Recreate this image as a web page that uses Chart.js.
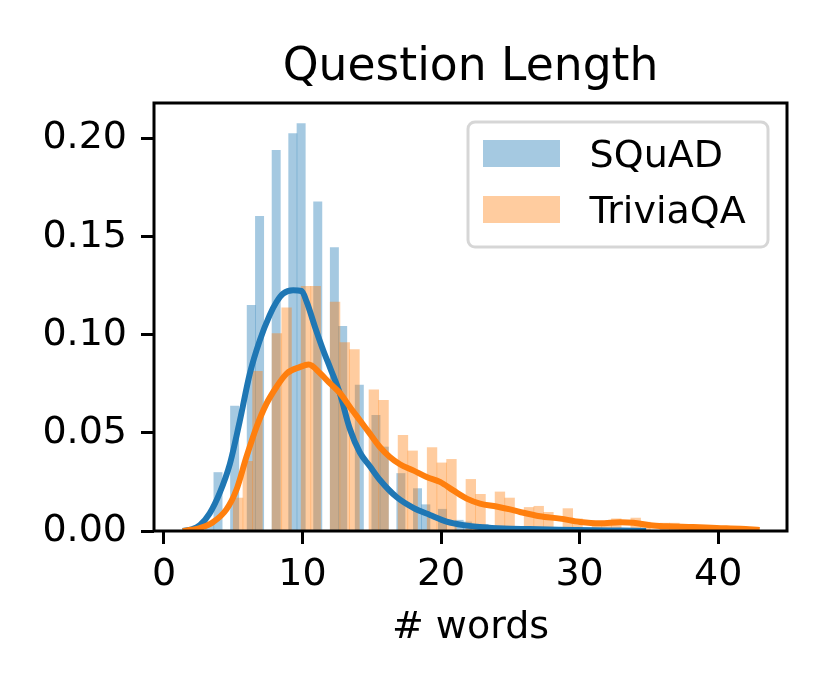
<!DOCTYPE html>
<html>
<head>
<meta charset="utf-8">
<script src="https://cdn.jsdelivr.net/npm/chart.js@4.4.1/dist/chart.umd.min.js"></script>
<style>
  html, body { margin: 0; padding: 0; background: #fff; }
  canvas { display: block; }
</style>
</head>
<body>
<canvas id="length-chart" width="830" height="692"></canvas>
<script>
// histogram bins (bin centre in words, density per bin)
var squadBinCenters = [3.3, 3.9, 5.1, 6.3, 6.9, 8.1, 9.3, 9.9, 11.1, 12.3, 12.9, 14.1, 15.3, 15.9, 17.1,
  18.3, 18.9, 20.1, 21.3, 21.9, 23.1, 24.3, 24.9, 26.1, 27.3, 27.9, 29.1, 30.3, 30.9, 32.1, 32.7];
var squadDensity = [0.0043, 0.0298, 0.0637, 0.115, 0.1604, 0.194, 0.2025, 0.2076, 0.1677, 0.1444, 0.1043,
  0.0743, 0.059, 0.0428, 0.0293, 0.0216, 0.0134, 0.0111, 0.0055, 0.0046, 0.0033, 0.0025, 0.002, 0.0015,
  0.0012, 0.001, 0.0008, 0.0006, 0.0005, 0.0004, 0.0003];

var triviaBinCenters = [5.35, 6.05, 6.75, 8.15, 8.85, 10.25, 10.95, 12.35, 13.05, 13.75, 15.15, 15.85,
  17.25, 17.95, 19.35, 20.05, 20.75, 22.15, 22.85, 24.25, 24.95, 26.35, 27.05, 27.75, 29.15, 29.85,
  31.25, 31.95, 32.65, 34.05, 34.75, 36.15, 36.85, 37.55, 38.95, 39.65];
var triviaDensity = [0.0168, 0.0355, 0.0814, 0.1006, 0.1137, 0.1247, 0.1247, 0.1167, 0.096, 0.0925, 0.072,
  0.0666, 0.0488, 0.0408, 0.0425, 0.0347, 0.0365, 0.0263, 0.0187, 0.0199, 0.0168, 0.012, 0.0126, 0.0095,
  0.0114, 0.0062, 0.0045, 0.005, 0.0062, 0.0066, 0.0045, 0.004, 0.004, 0.0025, 0.002, 0.0015];

// kde curves
var squadKdeX = [1.36, 2.0, 2.6, 3.3, 4.0, 4.75, 5.47, 6.19, 6.91, 7.63, 8.12, 8.6, 9.32, 9.93, 10.29,
  10.9, 11.5, 12.0, 12.7, 13.42, 14.14, 14.86, 15.59, 16.79, 18.0, 19.2, 20.4, 21.6, 23.0, 24.5, 26.4,
  28.5, 31, 33, 34.8];
var squadKdeY = [0, 0.0008, 0.003, 0.009, 0.019, 0.034, 0.056, 0.08, 0.097, 0.11, 0.1167, 0.121, 0.1227,
  0.1223, 0.117, 0.104, 0.092, 0.083, 0.07, 0.052, 0.04, 0.033, 0.026, 0.0173, 0.0118, 0.0082, 0.0048,
  0.003, 0.0019, 0.0013, 0.001, 0.0007, 0.0004, 0.0002, 0];

var triviaKdeX = [1.36, 2.0, 2.59, 3.54, 4.51, 5.23, 5.95, 6.68, 7.4, 8.12, 8.85, 9.8, 10.45, 11.25, 11.97,
  12.7, 13.42, 14.14, 14.86, 15.58, 16.3, 17.03, 17.99, 18.96, 19.92, 20.88, 21.85, 22.81, 24.0, 24.98,
  25.7, 27.14, 28.59, 30.03, 31.48, 32.93, 33.89, 35.1, 36.3, 38.2, 39.9, 41.6, 43.0];
var triviaKdeY = [0, 0.0006, 0.0015, 0.0045, 0.011, 0.021, 0.0377, 0.053, 0.0649, 0.0734, 0.0802, 0.0835,
  0.0848, 0.0805, 0.0753, 0.0703, 0.0632, 0.0564, 0.0496, 0.0428, 0.0377, 0.034, 0.0309, 0.0275, 0.025,
  0.0207, 0.0165, 0.014, 0.0125, 0.011, 0.0097, 0.0075, 0.0063, 0.0046, 0.0039, 0.0045, 0.0042, 0.0029,
  0.0024, 0.002, 0.0015, 0.0011, 0.0005];

var xTicks = [0, 10, 20, 30, 40];
var yTicks = [0, 0.05, 0.1, 0.15, 0.2];
var seriesNames = ["SQuAD", "TriviaQA"];
var chartTitle = "Question Length";
var xTitle = "# words";

function points(xs, ys) {
  return xs.map(function (x, i) { return { x: x, y: ys[i] }; });
}

Chart.defaults.font.family = '"DejaVu Sans", sans-serif';
Chart.defaults.color = "#000";

// frame, title and matplotlib-style legend
var decorPlugin = {
  id: "decor",
  afterDraw: function (chart) {
    var ctx = chart.ctx;
    var a = chart.chartArea;
    ctx.save();
    ctx.strokeStyle = "#000";
    ctx.lineWidth = 3;
    ctx.strokeRect(a.left, a.top, a.right - a.left, a.bottom - a.top);

    ctx.fillStyle = "#000";
    ctx.font = '45.6px "DejaVu Sans"';
    ctx.textAlign = "center";
    ctx.textBaseline = "alphabetic";
    ctx.fillText(chartTitle, (a.left + a.right) / 2, 79.5);

    // legend
    ctx.font = '38px "DejaVu Sans"';
    var w = 300;
    var h = 125;
    var x0 = a.right - 19 - w;
    var y0 = a.top + 19;
    ctx.beginPath();
    ctx.roundRect(x0, y0, w, h, 7);
    ctx.fillStyle = "rgba(255,255,255,0.8)";
    ctx.fill();
    ctx.strokeStyle = "rgba(204,204,204,0.8)";
    ctx.lineWidth = 3;
    ctx.stroke();
    ctx.textAlign = "left";
    for (var i = 0; i < 2; i++) {
      var cy = y0 + 31.5 + i * 56;
      ctx.fillStyle = chart.data.datasets[i].backgroundColor;
      ctx.fillRect(x0 + 15, cy - 13.5, 77, 27);
      ctx.fillStyle = "#000";
      ctx.fillText(seriesNames[i], x0 + 121.6, cy + 13);
    }
    ctx.restore();
  }
};

var ctx = document.getElementById("length-chart").getContext("2d");
var myLengthChart = new Chart(ctx, {
  type: "bar",
  data: {
    datasets: [
      {
        label: seriesNames[0],
        data: points(squadBinCenters, squadDensity),
        backgroundColor: "rgba(31,119,180,0.4)",
        borderWidth: 0,
        barThickness: 8.3,
        grouped: false,
        order: 4
      },
      {
        label: seriesNames[1],
        data: points(triviaBinCenters, triviaDensity),
        backgroundColor: "rgba(255,127,14,0.4)",
        borderWidth: 0,
        barThickness: 9.7,
        grouped: false,
        order: 3
      },
      {
        type: "line",
        label: seriesNames[0] + " kde",
        data: points(squadKdeX, squadKdeY),
        borderColor: "#1f77b4",
        borderWidth: 6,
        pointRadius: 0,
        fill: false,
        cubicInterpolationMode: "monotone",
        order: 2
      },
      {
        type: "line",
        label: seriesNames[1] + " kde",
        data: points(triviaKdeX, triviaKdeY),
        borderColor: "#ff7f0e",
        borderWidth: 6,
        pointRadius: 0,
        fill: false,
        cubicInterpolationMode: "monotone",
        order: 1
      }
    ]
  },
  options: {
    responsive: false,
    animation: false,
    layout: { padding: { top: 103, right: 43, bottom: 0, left: 0 } },
    plugins: {
      legend: { display: false },
      title: { display: false },
      tooltip: { enabled: false }
    },
    scales: {
      x: {
        type: "linear",
        min: -0.72,
        max: 44.97,
        offset: false,
        afterBuildTicks: function (s) { s.ticks = xTicks.map(function (v) { return { value: v }; }); },
        afterFit: function (s) { s.height = 161; },
        ticks: { font: { size: 38 }, color: "#000", padding: 8, maxRotation: 0, autoSkip: false },
        grid: { display: true, offset: false, drawOnChartArea: false, drawTicks: true, tickLength: 13, tickWidth: 3, tickColor: "#000" },
        border: { display: false },
        title: { display: true, text: xTitle, font: { size: 38 }, color: "#000", padding: { top: 0, bottom: 41 } }
      },
      y: {
        type: "linear",
        min: 0,
        max: 0.2181,
        afterBuildTicks: function (s) { s.ticks = yTicks.map(function (v) { return { value: v }; }); },
        afterFit: function (s) { s.width = 154; },
        ticks: {
          font: { size: 38 }, color: "#000", padding: 14, autoSkip: false,
          callback: function (v) { return v.toFixed(2); }
        },
        grid: { display: true, drawOnChartArea: false, drawTicks: true, tickLength: 13, tickWidth: 3, tickColor: "#000" },
        border: { display: false }
      }
    }
  },
  plugins: [decorPlugin]
});
</script>
</body>
</html>
